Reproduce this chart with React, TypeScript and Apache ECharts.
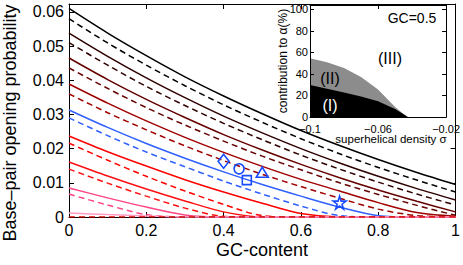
import React, { useEffect, useRef } from 'react';
import * as echarts from 'echarts';

const FONT = '"Liberation Sans", Arial, Helvetica, sans-serif';

// GC-content sample points
const gc = [0, 0.1, 0.2, 0.3, 0.4, 0.5, 0.6, 0.7, 0.8, 0.9, 1];

// opening probability curves (solid / dashed pairs)
const blackSolid = [0.061, 0.0538, 0.0472, 0.041, 0.0354, 0.0302, 0.0253, 0.0209, 0.0168, 0.013, 0.0095];
const blackDashed = [0.058, 0.0509, 0.0444, 0.0384, 0.0328, 0.0277, 0.0229, 0.0185, 0.0145, 0.0108, 0.0073];
const darkSolid = [0.0538, 0.047, 0.0407, 0.0349, 0.0295, 0.0246, 0.02, 0.0158, 0.0119, 0.0083, 0.005];
const darkDashed = [0.051, 0.0444, 0.0382, 0.0326, 0.0274, 0.0226, 0.0181, 0.014, 0.0102, 0.0067, 0.0035];
const maroonSolid = [0.0465, 0.0402, 0.0344, 0.0291, 0.0241, 0.0196, 0.0154, 0.0115, 0.0079, 0.0046, 0.0015];
const maroonDashed = [0.0436, 0.0376, 0.032, 0.0269, 0.0222, 0.0178, 0.0138, 0.01, 0.0066, 0.0034, 0.0005];
const brownSolid = [0.0389, 0.0333, 0.0281, 0.0233, 0.0189, 0.0148, 0.011, 0.0076, 0.0042, 0.0013, 0.0002];
const brownDashed = [0.036, 0.0305, 0.0255, 0.0208, 0.0165, 0.0125, 0.0089, 0.0055, 0.0023, 0.0004, 0];
const blueSolid = [0.0313, 0.0262, 0.0215, 0.0172, 0.0132, 0.0095, 0.0061, 0.0029, 0.0004, 0, 0];
const blueDashed = [0.029, 0.0238, 0.019, 0.0147, 0.0105, 0.0067, 0.0032, 0.0004, 0, 0, 0];
const redSolid = [0.0237, 0.0191, 0.0149, 0.0109, 0.0073, 0.004, 0.001, 0, 0, 0, 0];
const redDashed = [0.0216, 0.0166, 0.0119, 0.0076, 0.0037, 0.0004, 0, 0, 0, 0, 0];
const red2Solid = [0.0161, 0.012, 0.0082, 0.0047, 0.0015, 0, 0, 0, 0, 0, 0];
const red2Dashed = [0.014, 0.0099, 0.0061, 0.0026, 0.0002, 0, 0, 0, 0, 0, 0];
const pinkSolid = [0.0085, 0.0056, 0.0029, 0.0006, 0, 0, 0, 0, 0, 0, 0];
const pinkDashed = [0.0067, 0.0035, 0.0007, 0, 0, 0, 0, 0, 0, 0, 0];
const lightPinkSolid = [0.0012, 0.0007, 0.0003, 0, 0, 0, 0, 0, 0, 0, 0];
const zeroDashed = [0, 0, 0, 0, 0, 0, 0, 0, 0, 0, 0];

// experimental markers
const markerGC = [0.4, 0.44, 0.46, 0.5, 0.7];
const markerP = [0.0163, 0.0141, 0.0108, 0.0131, 0.0042];

// inset: contribution to alpha (%) vs superhelical density
const sigma = [-0.1, -0.09, -0.08, -0.07, -0.06, -0.05, -0.045, -0.0425, -0.04, -0.03, -0.02];
const regionI = [29.8, 26.2, 22.7, 19, 14.7, 7.4, 2.5, 0, 0, 0, 0];
const regionIandII = [54.6, 50.9, 45.5, 37.2, 25.5, 9.3, 2.8, 0, 0, 0, 0];

const STAR = 'path://M50,2 L61,37 L98,37 L68,59 L79,94 L50,72 L21,94 L32,59 L2,37 L39,37 Z';

const curves: [number[], string, boolean][] = [
  [blackSolid, '#000000', false],
  [blackDashed, '#000000', true],
  [darkSolid, '#2e0000', false],
  [darkDashed, '#2e0000', true],
  [maroonSolid, '#650000', false],
  [maroonDashed, '#650000', true],
  [brownSolid, '#a00000', false],
  [brownDashed, '#a00000', true],
  [blueSolid, '#3060ff', false],
  [blueDashed, '#3060ff', true],
  [redSolid, '#ff0000', false],
  [redDashed, '#ff0000', true],
  [red2Solid, '#ff1010', false],
  [red2Dashed, '#ff1010', true],
  [pinkSolid, '#ff4585', false],
  [pinkDashed, '#ff4585', true],
  [lightPinkSolid, '#ff9cc4', false],
  [zeroDashed, '#d00000', true],
];

const tickStyle = { color: '#000', width: 1 };

function buildOption() {
  const series: any[] = curves.map(([arr, color, dashed]) => ({
    type: 'line',
    xAxisIndex: 0,
    yAxisIndex: 0,
    data: gc.map((g, i) => [g, arr[i]]),
    symbol: 'none',
    smooth: 0.3,
    lineStyle: { color, width: 1.5, type: dashed ? [6, 4] : 'solid' },
    z: 2,
  }));

  const shapes = ['diamond', 'circle', 'rect', 'triangle', STAR];
  const sizes = [[11, 14], [10, 10], [9, 9], [12, 10], [13, 13]];
  series.push({
    type: 'scatter',
    xAxisIndex: 0,
    yAxisIndex: 0,
    data: markerGC.map((g, i) => ({ value: [g, markerP[i]], symbol: shapes[i], symbolSize: sizes[i] })),
    itemStyle: { color: 'none', borderColor: '#1a4cff', borderWidth: 1.6, opacity: 1 },
    z: 3,
  });

  series.push({
    type: 'line',
    xAxisIndex: 2,
    yAxisIndex: 2,
    data: sigma.map((s, i) => [s, regionIandII[i]]),
    symbol: 'none',
    lineStyle: { width: 0 },
    areaStyle: { color: '#8c8c8c', opacity: 1 },
    z: 6,
  });
  series.push({
    type: 'line',
    xAxisIndex: 2,
    yAxisIndex: 2,
    data: sigma.map((s, i) => [s, regionI[i]]),
    symbol: 'none',
    lineStyle: { width: 0 },
    areaStyle: { color: '#000000', opacity: 1 },
    z: 7,
  });

  const mainX = { gridIndex: 0, type: 'value', min: 0, max: 1, interval: 0.2 };
  const mainY = { gridIndex: 0, type: 'value', min: 0, max: 0.0623, interval: 0.01 };
  const insX = { gridIndex: 1, type: 'value', min: -0.1, max: -0.02, interval: 0.04 };
  const insY = { gridIndex: 1, type: 'value', min: 0, max: 104, interval: 20 };

  const fmtSigned = (v: number) => {
    const r = +v.toFixed(2);
    return (r < 0 ? '\u2212' : '') + String(Math.abs(r));
  };

  return {
    animation: false,
    backgroundColor: '#ffffff',
    textStyle: { fontFamily: FONT },
    grid: [
      { left: 69, top: 4, width: 390, height: 213 },
      { left: 310, top: 5, width: 145, height: 112 },
    ],
    xAxis: [
      {
        ...mainX,
        position: 'bottom',
        axisLine: { show: true, onZero: false, lineStyle: tickStyle },
        axisTick: { show: true, inside: true, length: 5, lineStyle: tickStyle },
        axisLabel: {
          fontSize: 16, color: '#000', margin: 5, fontFamily: FONT,
          formatter: (v: number) => String(+v.toFixed(1)),
        },
        splitLine: { show: false },
      },
      {
        ...mainX,
        position: 'top',
        axisLine: { show: true, onZero: false, lineStyle: tickStyle },
        axisTick: { show: true, inside: true, length: 5, lineStyle: tickStyle },
        axisLabel: { show: false },
        splitLine: { show: false },
      },
      {
        ...insX,
        position: 'bottom',
        z: 10,
        axisLine: { show: true, onZero: false, lineStyle: tickStyle },
        axisTick: { show: true, inside: true, length: 4, lineStyle: tickStyle },
        axisLabel: { fontSize: 11, color: '#000', margin: 6, fontFamily: FONT, formatter: fmtSigned, hideOverlap: false },
        splitLine: { show: false },
      },
      {
        ...insX,
        position: 'top',
        z: 10,
        axisLine: { show: true, onZero: false, lineStyle: tickStyle },
        axisTick: { show: true, inside: true, length: 4, lineStyle: tickStyle },
        axisLabel: { show: false },
        splitLine: { show: false },
      },
    ],
    yAxis: [
      {
        ...mainY,
        position: 'left',
        axisLine: { show: true, onZero: false, lineStyle: tickStyle },
        axisTick: { show: true, inside: true, length: 5, lineStyle: tickStyle },
        axisLabel: {
          fontSize: 16, color: '#000', margin: 5, fontFamily: FONT,
          formatter: (v: number) =>
            Math.abs(v * 100 - Math.round(v * 100)) < 1e-6 ? String(+v.toFixed(2)) : '',
        },
        splitLine: { show: false },
      },
      {
        ...mainY,
        position: 'right',
        axisLine: { show: true, onZero: false, lineStyle: tickStyle },
        axisTick: { show: true, inside: true, length: 5, lineStyle: tickStyle },
        axisLabel: { show: false },
        splitLine: { show: false },
      },
      {
        ...insY,
        position: 'left',
        z: 10,
        axisLine: { show: true, onZero: false, lineStyle: tickStyle },
        axisTick: { show: true, inside: true, length: 4, lineStyle: tickStyle },
        axisLabel: {
          fontSize: 11, color: '#000', margin: 2, fontFamily: FONT,
          formatter: (v: number) => (v % 20 === 0 ? String(v) : ''),
        },
        splitLine: { show: false },
      },
      {
        ...insY,
        position: 'right',
        z: 10,
        axisLine: { show: true, onZero: false, lineStyle: tickStyle },
        axisTick: { show: true, inside: true, length: 4, lineStyle: tickStyle },
        axisLabel: { show: false },
        splitLine: { show: false },
      },
    ],
    graphic: [
      { type: 'rect', z: 5, shape: { x: 310, y: 5, width: 145, height: 112 }, style: { fill: '#ffffff' } },
      {
        type: 'text', z: 20, x: 10, y: 123, rotation: Math.PI / 2,
        style: { text: 'Base\u2013pair opening probability', font: `18px ${FONT}`, fill: '#000', align: 'center', verticalAlign: 'middle' },
      },
      {
        type: 'text', z: 20, x: 262, y: 250,
        style: { text: 'GC-content', font: `18px ${FONT}`, fill: '#000', align: 'center', verticalAlign: 'middle' },
      },
      {
        type: 'text', z: 20, x: 283, y: 61, rotation: Math.PI / 2,
        style: { text: 'contribution to \u03b1(%)', font: `12px ${FONT}`, fill: '#000', align: 'center', verticalAlign: 'middle' },
      },
      {
        type: 'text', z: 20, x: 391, y: 139,
        style: { text: 'superhelical density \u03c3', font: `11.5px ${FONT}`, fill: '#000', align: 'center', verticalAlign: 'middle' },
      },
      {
        type: 'text', z: 20, x: 412, y: 18,
        style: { text: 'GC=0.5', font: `14px ${FONT}`, fill: '#000', align: 'center', verticalAlign: 'middle' },
      },
      {
        type: 'text', z: 20, x: 390, y: 58,
        style: { text: '(III)', font: `16px ${FONT}`, fill: '#000', align: 'center', verticalAlign: 'middle' },
      },
      {
        type: 'text', z: 20, x: 330, y: 78,
        style: { text: '(II)', font: `16px ${FONT}`, fill: '#000', align: 'center', verticalAlign: 'middle' },
      },
      {
        type: 'text', z: 20, x: 330, y: 105,
        style: { text: '(I)', font: `16px ${FONT}`, fill: '#ffffff', align: 'center', verticalAlign: 'middle' },
      },
    ],
    series,
  };
}

export default function App() {
  const ref = useRef<HTMLDivElement>(null);
  useEffect(() => {
    if (!ref.current) return;
    const chart = echarts.init(ref.current, null, { renderer: 'svg' });
    chart.setOption(buildOption() as any);
    return () => chart.dispose();
  }, []);
  return <div ref={ref} style={{ position: 'fixed', left: 0, top: 0, width: 463, height: 265 }} />;
}
